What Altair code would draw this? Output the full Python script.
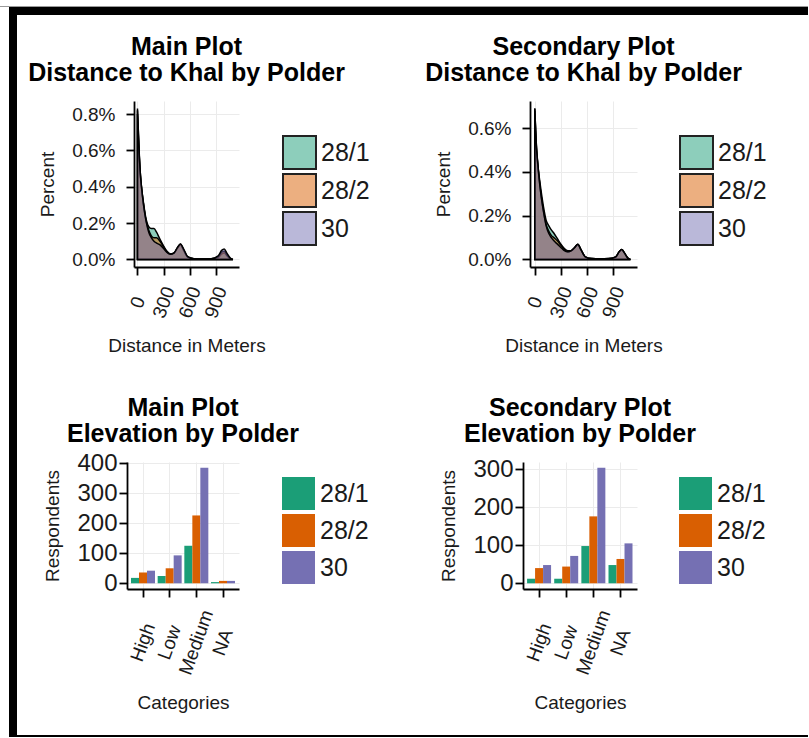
import altair as alt
import pandas as pd

FONT = "Liberation Sans"
TXT = "#1a1a1a"

polders = ["28/1", "28/2", "30"]
dark2 = ["#1B9E77", "#D95F02", "#7570B3"]
dark2_light = ["#8DCEBB", "#ECAF80", "#BAB8D9"]

# distance grid (m) and density (in percent)
dist_m = [0, 10, 20, 35, 50, 70, 100, 130, 160, 190, 220, 260, 300, 340, 380, 420,
          460, 495, 530, 580, 650, 750, 850, 930, 970, 1000, 1030, 1070, 1100]
main_281 = [0.80, 0.68, 0.57, 0.45, 0.38, 0.31, 0.22, 0.18, 0.17, 0.17, 0.15, 0.11, 0.075, 0.045,
            0.030, 0.035, 0.060, 0.080, 0.050, 0.012, 0.004, 0.003, 0.003, 0.010, 0.030, 0.035, 0.020, 0.004, 0.0]
main_282 = [0.82, 0.70, 0.58, 0.46, 0.38, 0.30, 0.21, 0.16, 0.13, 0.12, 0.12, 0.10, 0.070, 0.040,
            0.030, 0.035, 0.065, 0.085, 0.055, 0.013, 0.004, 0.003, 0.004, 0.015, 0.040, 0.045, 0.025, 0.005, 0.0]
main_30 = [0.83, 0.71, 0.59, 0.46, 0.385, 0.30, 0.21, 0.15, 0.12, 0.10, 0.09, 0.08, 0.060, 0.038,
           0.028, 0.035, 0.065, 0.085, 0.060, 0.015, 0.004, 0.003, 0.004, 0.020, 0.050, 0.058, 0.035, 0.008, 0.0]
sec_281 = [0.68, 0.58, 0.50, 0.43, 0.38, 0.32, 0.24, 0.18, 0.155, 0.135, 0.12, 0.095, 0.070, 0.050,
           0.040, 0.040, 0.055, 0.070, 0.045, 0.012, 0.004, 0.003, 0.003, 0.010, 0.035, 0.045, 0.030, 0.006, 0.0]
sec_282 = [0.69, 0.59, 0.51, 0.43, 0.37, 0.30, 0.22, 0.16, 0.13, 0.11, 0.10, 0.085, 0.065, 0.045,
           0.035, 0.040, 0.055, 0.068, 0.045, 0.012, 0.004, 0.003, 0.004, 0.012, 0.035, 0.045, 0.030, 0.006, 0.0]
sec_30 = [0.69, 0.59, 0.51, 0.44, 0.37, 0.30, 0.22, 0.155, 0.12, 0.10, 0.085, 0.070, 0.055, 0.040,
          0.035, 0.040, 0.055, 0.070, 0.045, 0.012, 0.004, 0.003, 0.004, 0.012, 0.035, 0.046, 0.030, 0.006, 0.0]

# elevation counts
cats = ["High", "Low", "Medium", "NA"]
elev_main_281 = [18, 24, 125, 4]
elev_main_282 = [36, 50, 226, 8]
elev_main_30 = [42, 93, 385, 8]
elev_sec_281 = [12, 12, 98, 48]
elev_sec_282 = [40, 44, 176, 64]
elev_sec_30 = [48, 72, 304, 105]


def dens_df(series):
    rows = []
    for pol, vals in zip(polders, series):
        for x, v in zip(dist_m, vals):
            rows.append({"polder": pol, "dist": x, "dens": v / 100.0})
    return pd.DataFrame(rows)


def elev_df(series):
    rows = []
    for pol, vals in zip(polders, series):
        for c, v in zip(cats, vals):
            rows.append({"polder": pol, "cat": c, "n": v})
    return pd.DataFrame(rows)


def make_title(lines, offset):
    return alt.Title(lines, anchor="middle", frame="group", font=FONT, fontSize=25,
                     fontWeight="bold", color="black", lineHeight=26, baseline="bottom",
                     offset=offset)


def legend(lx, ly, stroke):
    kw = dict(orient="none", legendX=lx, legendY=ly, title=None, labelFont=FONT,
              labelFontSize=25, labelColor=TXT, symbolType="square", symbolSize=1089,
              rowPadding=3, labelOffset=4, padding=0)
    if stroke:
        kw.update(symbolStrokeColor="#222222", symbolStrokeWidth=2, rowPadding=-3)
    return alt.Legend(**kw)


def dens_panel(series, lines, ydom, yvals, xdom, width, height):
    df = dens_df(series)
    return alt.Chart(df).mark_area(fillOpacity=0.5, stroke="black", strokeWidth=1.5,
                                   interpolate="monotone", clip=True).encode(
        x=alt.X("dist:Q", scale=alt.Scale(domain=xdom, nice=False, zero=False),
                axis=alt.Axis(values=[0, 300, 600, 900], title="Distance in Meters",
                              labelAngle=-70, labelAlign="center", labelBaseline="middle",
                              labelOverlap=False, labelPadding=27, labelFontSize=19,
                              titlePadding=16)),
        y=alt.Y("dens:Q", stack=None, scale=alt.Scale(domain=ydom, nice=False, zero=False),
                axis=alt.Axis(values=yvals, format=".1%", title="Percent",
                              labelFontSize=19, labelPadding=11, titlePadding=14)),
        color=alt.Color("polder:N", scale=alt.Scale(domain=polders, range=dark2), legend=None),
    ).properties(width=width, height=height, title=make_title(lines, -10))


def dens_legend(width, lx, ly):
    # unit view that only carries the density legend (keys as translucent fills seen on white)
    keys = pd.DataFrame({"polder": polders})
    return alt.Chart(keys).mark_square(size=0, filled=True, opacity=1,
                                       stroke="#222222", strokeWidth=2).encode(
        x=alt.value(0), y=alt.value(0),
        color=alt.Color("polder:N", scale=alt.Scale(domain=polders, range=dark2_light),
                        legend=legend(lx, ly, True)),
    ).properties(width=width, height=166)


def bar_panel(series, lines, ydom, yvals, width, height, lx, ly, toff):
    df = elev_df(series)
    return alt.Chart(df).mark_bar().encode(
        x=alt.X("cat:N", sort=cats, scale=alt.Scale(paddingInner=0.1, paddingOuter=0.15),
                axis=alt.Axis(title="Categories", labelAngle=-70, labelAlign="center",
                              labelBaseline="middle", labelPadding=45, labelFontSize=19,
                              labelOverlap=False, bandPosition=0.5, grid=True, titlePadding=16)),
        xOffset=alt.XOffset("polder:N", sort=polders,
                            scale=alt.Scale(paddingInner=0, paddingOuter=0)),
        y=alt.Y("n:Q", scale=alt.Scale(domain=ydom, nice=False, zero=False),
                axis=alt.Axis(values=yvals, title="Respondents", labelFontSize=24,
                              labelPadding=2, titlePadding=14)),
        y2=alt.datum(0),
        color=alt.Color("polder:N", scale=alt.Scale(domain=polders, range=dark2),
                        legend=legend(lx, ly, False)),
    ).properties(width=width, height=height, title=make_title(lines, toff))


# decorative frame drawn from the (invisible) spacer whose origin is at (127, 101)
one = pd.DataFrame({"k": [0]})
OX, OY = 127, 101


def frame_rect(x1, x2, y1, y2, color):
    return alt.Chart(one).mark_rect(color=color).encode(
        x=alt.value(x1 - OX), x2=alt.value(x2 - OX),
        y=alt.value(y1 - OY), y2=alt.value(y2 - OY))


spacer = alt.layer(
    frame_rect(0, 808, 6, 7, "#9a9a9a"),
    frame_rect(9, 808, 7, 15, "black"),
    frame_rect(9, 17, 7, 737, "black"),
    frame_rect(9, 808, 735, 737, "black"),
).properties(width=7, height=166)

p1 = dens_panel([main_281, main_282, main_30], ["Main Plot", "Distance to Khal by Polder"],
                [-0.000415, 0.008715], [0, 0.002, 0.004, 0.006, 0.008], [-40, 1170], 105, 166)
L1 = dens_legend(291, 43, 34)
p2 = dens_panel([sec_281, sec_282, sec_30], ["Secondary Plot", "Distance to Khal by Polder"],
                [-0.000345, 0.007245], [0, 0.002, 0.004, 0.006], [-55, 1175], 107, 166)
L2 = dens_legend(20, 42, 34)
p3 = bar_panel([elev_main_281, elev_main_282, elev_main_30], ["Main Plot", "Elevation by Polder"],
               [-19, 404], [0, 100, 200, 300, 400], 112, 127, 154, 14, -21)
p4 = bar_panel([elev_sec_281, elev_sec_282, elev_sec_30], ["Secondary Plot", "Elevation by Polder"],
               [-15, 319], [0, 100, 200, 300], 114, 127, 155, 14, -15)

IND = dict(color="independent")

inner1 = alt.hconcat(p1, L1, p2, L2, spacing=0, bounds="flush").resolve_scale(**IND).resolve_legend(**IND)
row1 = alt.hconcat(spacer, inner1, spacing=0, bounds="flush").resolve_scale(**IND).resolve_legend(**IND)
row2 = alt.hconcat(p3, p4, spacing=284, bounds="flush").resolve_scale(**IND).resolve_legend(**IND)

chart = alt.vconcat(row1, row2, spacing=361, bounds="flush").resolve_scale(**IND).resolve_legend(**IND).properties(
    padding={"left": 0, "top": 6, "right": 0, "bottom": 0},
    background="white",
).configure_view(strokeWidth=0).configure_axis(
    labelFont=FONT, titleFont=FONT, labelColor=TXT, titleColor=TXT,
    titleFontSize=19, titleFontWeight="normal",
    domainColor="black", domainWidth=1.8, tickColor="black", tickWidth=1.8, tickSize=8,
    gridColor="#ebebeb", gridWidth=1,
)

chart.save("out.html", embed_options={"renderer": "svg", "actions": False})
